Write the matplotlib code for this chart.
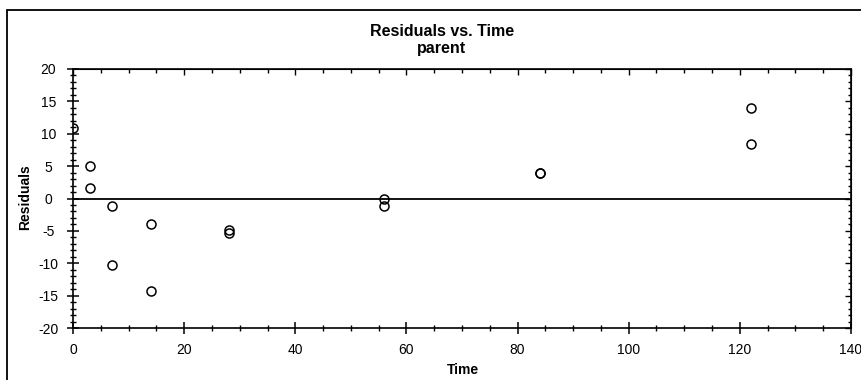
import matplotlib.pyplot as plt
from matplotlib.ticker import MultipleLocator
from matplotlib.patches import Rectangle

plt.rcParams['font.family'] = ['Liberation Sans', 'DejaVu Sans']
plt.rcParams['axes.unicode_minus'] = False

# residuals
time = [0, 3, 3, 7, 7, 14, 14, 28, 28, 56, 56, 84, 84, 122, 122]
resid = [10.9, 5.0, 1.6, -1.2, -10.3, -4.0, -14.3, -4.8, -5.3, 0.0, -1.2, 3.9, 4.0, 14.0, 8.4]

fig = plt.figure(figsize=(8.62, 3.8), dpi=100)
ax = fig.add_axes([73 / 862, 1 - 328 / 380, 778 / 862, 259 / 380])

# frame line around the whole chart (left and top visible)
fig.patches.append(Rectangle((7 / 862, -0.1), 1.2, 1 - 10 / 380 + 0.1, transform=fig.transFigure,
                             fill=False, edgecolor='black', linewidth=1.3))

ax.axhline(0, color='black', linewidth=1.3, zorder=1)
ax.plot(time, resid, 'o', mfc='none', mec='black', ms=6.5, mew=1.1, zorder=3)

ax.set_xlim(0, 140)
ax.set_ylim(-20, 20)
ax.xaxis.set_major_locator(MultipleLocator(20))
ax.xaxis.set_minor_locator(MultipleLocator(5))
ax.yaxis.set_major_locator(MultipleLocator(5))
ax.yaxis.set_minor_locator(MultipleLocator(1))
ax.tick_params(which='major', direction='inout', length=9, width=1.1, labelsize=10)
ax.tick_params(axis='x', which='major', pad=6.5)
ax.tick_params(axis='y', which='major', pad=13.3)
ax.tick_params(which='minor', direction='inout', length=5, width=1.0)
for lab in ax.get_yticklabels():
    lab.set_horizontalalignment('center')
for s in ax.spines.values():
    s.set_linewidth(1.2)

top = ax.secondary_xaxis('top')
top.xaxis.set_major_locator(MultipleLocator(20))
top.xaxis.set_minor_locator(MultipleLocator(5))
top.tick_params(which='major', direction='in', length=4, width=1.0, labeltop=False)
top.tick_params(which='minor', direction='in', length=3, width=1.0)
right = ax.secondary_yaxis('right')
right.yaxis.set_major_locator(MultipleLocator(5))
right.yaxis.set_minor_locator(MultipleLocator(1))
right.tick_params(which='major', direction='in', length=4, width=1.0, labelright=False)
right.tick_params(which='minor', direction='in', length=2.5, width=1.0)

fig.text(442 / 862, 1 - 31 / 380, 'Residuals vs. Time', ha='center', va='center',
         fontsize=11.5, fontweight='bold')
fig.text(442 / 862, 1 - 48 / 380, 'parent', ha='center', va='center',
         fontsize=11.5, fontweight='bold')
fig.text(463 / 862, 1 - 370 / 380, 'Time', ha='center', va='center', fontsize=10, fontweight='bold')
fig.text(25 / 862, 1 - 197 / 380, 'Residuals', ha='center', va='center', rotation=90,
         fontsize=10, fontweight='bold')

fig.savefig('out.png', dpi=100)
